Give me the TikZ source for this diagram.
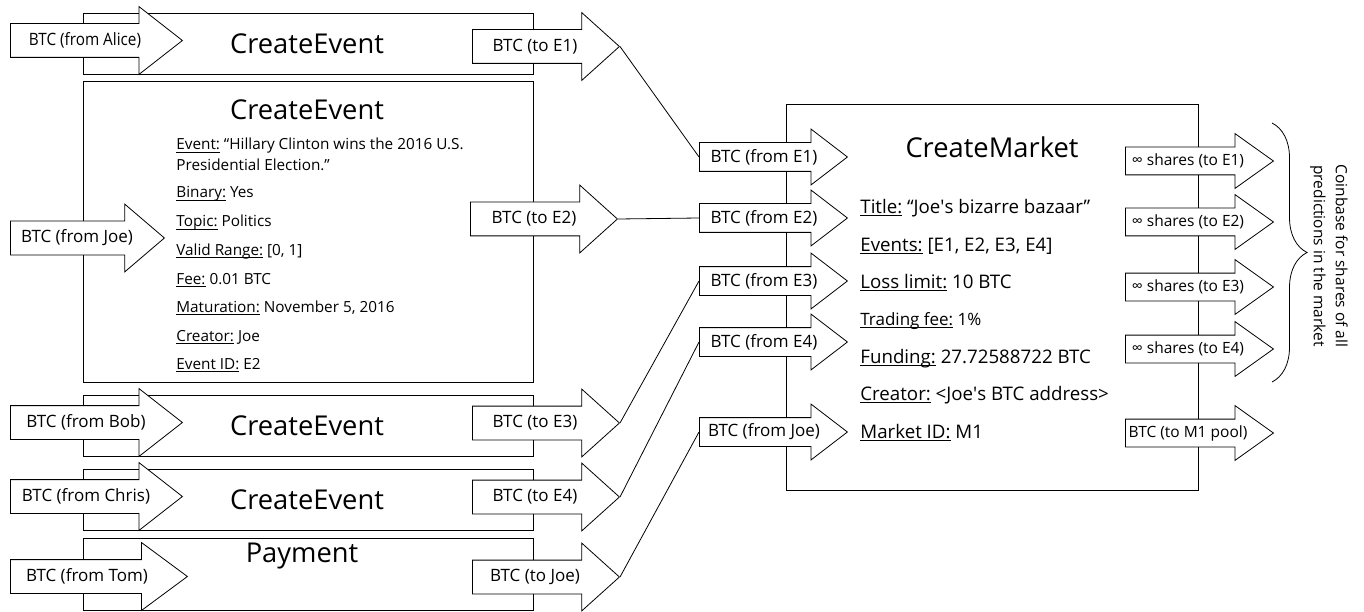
\documentclass[tikz,border=0pt]{standalone}
\usepackage{fontspec}
\setmainfont{Open Sans}
\usetikzlibrary{shapes.arrows,decorations.pathreplacing}
\newsavebox\fldbox
\newcommand{\fld}[2]{\sbox\fldbox{#1}\rlap{\rule[-2.5pt]{\wd\fldbox}{.8pt}}\usebox\fldbox{} #2}
\tikzset{
  flow/.style={single arrow,draw,fill=white,anchor=tail,inner xsep=0pt},
  inarr/.style={flow,minimum height=172pt,inner ysep=16.5pt,single arrow head extend=17pt,single arrow tip angle=76},
  joearr/.style={inarr,minimum height=154pt,single arrow tip angle=81},
  outarr/.style={flow,minimum height=147pt,inner ysep=16.5pt,single arrow head extend=17pt,single arrow tip angle=84},
  mkarr/.style={flow,minimum height=148pt,inner ysep=14pt,single arrow head extend=13.5pt,single arrow tip angle=75},
  sharr/.style={flow,minimum height=148pt,inner ysep=13.5pt,single arrow head extend=13.5pt,single arrow tip angle=71},
  lab/.style={font=\fontsize{17}{20}\selectfont,inner sep=0pt},
  slab/.style={font=\fontsize{15.5}{22}\selectfont,inner sep=0pt},
  title/.style={font=\fontsize{27.3}{32}\selectfont,inner sep=0pt},
  fieldE/.style={anchor=base west,inner sep=0pt,font=\fontsize{15.3}{19}\selectfont},
  fieldM/.style={anchor=base west,inner sep=0pt,font=\fontsize{18.7}{22}\selectfont}
}
\begin{document}
\begin{tikzpicture}[x=1pt,y=-1pt,line width=.8pt]%events into a market
\useasboundingbox (0,0) rectangle (1364,612);
\draw (83,13) rectangle (533,74);
\draw (83,81) rectangle (533,382);
\draw (83,395) rectangle (533,456);
\draw (83,469) rectangle (533,530);
\draw (83,538) rectangle (533,610);
\draw (786,104) rectangle (1198,490);
\node[title] (ce1) at (307,44) {CreateEvent};
\node[title] (ce2) at (307,110) {CreateEvent};
\node[title] (ce3) at (307,426) {CreateEvent};
\node[title] (ce4) at (307,500) {CreateEvent};
\node[title] (pay) at (302,556) {Payment};
\node[title] (cm) at (992,147) {CreateMarket};
\node[fieldE] (ev) at (176,150) {\fld{Event:}{“Hillary Clinton wins the 2016 U.S.}};
\node[fieldE] (evb) at (176,171) {Presidential Election.”};
\node[fieldE] (bin) at (176,198) {\fld{Binary:}{Yes}};
\node[fieldE] (top) at (176,227) {\fld{Topic:}{Politics}};
\node[fieldE] (rng) at (176,255) {\fld{Valid Range:}{[0, 1]}};
\node[fieldE] (fee) at (176,284) {\fld{Fee:}{0.01 BTC}};
\node[fieldE] (mat) at (176,312) {\fld{Maturation:}{November 5, 2016}};
\node[fieldE] (cre) at (176,341) {\fld{Creator:}{Joe}};
\node[fieldE] (eid) at (176,369) {\fld{Event ID:}{E2}};
\node[fieldM] (tit) at (860,213.5) {\fld{Title:}{“Joe\textquotesingle s bizarre bazaar”}};
\node[fieldM] (evs) at (860,251.5) {\fld{Events:}{[E1, E2, E3, E4]}};
\node[fieldM] (los) at (860,288.5) {\fld{Loss limit:}{10 BTC}};
\node[fieldM,font=\fontsize{17}{20}\selectfont] (trf) at (860,325) {\fld{Trading fee:}{1\%}};
\node[fieldM] (fun) at (860,363.5) {\fld{Funding:}{27.72588722 BTC}};
\node[fieldM] (mcr) at (860,400.5) {\fld{Creator:}{<Joe\textquotesingle s BTC address>}};
\node[fieldM] (mid) at (860,438.5) {\fld{Market ID:}{M1}};
\node[inarr] (alice) at (10,40.5) {};
\node[lab] (alicet) at ([xshift=75pt]alice.tail) {\scalebox{.9}[1]{BTC (from Alice)}};
\node[joearr] (joe) at (10,238) {};
\node[lab] (joet) at ([xshift=67pt]joe.tail) {BTC (from Joe)};
\node[inarr] (bob) at (10,422.5) {};
\node[lab] (bobt) at ([xshift=76pt]bob.tail) {BTC (from Bob)};
\node[inarr] (chris) at (10,496.5) {};
\node[lab] (christ) at ([xshift=76pt]chris.tail) {BTC (from Chris)};
\node[inarr,minimum height=177pt,single arrow tip angle=73] (tom) at (10,576.5) {};
\node[lab] (tomt) at ([xshift=77pt]tom.tail) {BTC (from Tom)};
\node[outarr] (toe1) at (472,46.5) {};
\node[lab] (toe1t) at ([xshift=63pt]toe1.tail) {BTC (to E1)};
\node[outarr] (toe2) at (470,219) {};
\node[lab] (toe2t) at ([xshift=64pt]toe2.tail) {BTC (to E2)};
\node[outarr] (toe3) at (472,423) {};
\node[lab] (toe3t) at ([xshift=63pt]toe3.tail) {BTC (to E3)};
\node[outarr] (toe4) at (472,497) {};
\node[lab] (toe4t) at ([xshift=63pt]toe4.tail) {BTC (to E4)};
\node[outarr] (tojoe) at (472,577) {};
\node[lab] (tojoet) at ([xshift=63pt]tojoe.tail) {BTC (to Joe)};
\node[mkarr] (frome1) at (699,157) {};
\node[lab] (frome1t) at ([xshift=65pt]frome1.tail) {BTC (from E1)};
\node[mkarr] (frome2) at (699,218) {};
\node[lab] (frome2t) at ([xshift=65pt]frome2.tail) {BTC (from E2)};
\node[mkarr] (frome3) at (699,281) {};
\node[lab] (frome3t) at ([xshift=65pt]frome3.tail) {BTC (from E3)};
\node[mkarr] (frome4) at (699,342) {};
\node[lab] (frome4t) at ([xshift=65pt]frome4.tail) {BTC (from E4)};
\node[mkarr] (fromjoe) at (699,432) {};
\node[lab] (fromjoet) at ([xshift=65pt]fromjoe.tail) {BTC (from Joe)};
\node[sharr] (sh1) at (1125,161) {};
\node[slab] (sh1t) at ([xshift=63pt]sh1.tail) {∞ shares (to E1)};
\node[sharr] (sh2) at (1125,222) {};
\node[slab] (sh2t) at ([xshift=63pt]sh2.tail) {∞ shares (to E2)};
\node[sharr] (sh3) at (1125,287) {};
\node[slab] (sh3t) at ([xshift=63pt]sh3.tail) {∞ shares (to E3)};
\node[sharr] (sh4) at (1125,349) {};
\node[slab] (sh4t) at ([xshift=63pt]sh4.tail) {∞ shares (to E4)};
\node[sharr] (pool) at (1125,433) {};
\node[slab] (poolt) at ([xshift=63pt]pool.tail) {BTC (to M1 pool)};
\draw (toe1.tip) -- (frome1.tail);
\draw (toe2.tip) -- (frome2.tail);
\draw (toe3.tip) -- (frome3.tail);
\draw (toe4.tip) -- (frome4.tail);
\draw (tojoe.tip) -- (fromjoe.tail);
\draw[decorate,decoration={brace,amplitude=35pt}] (1272,123) -- (1272,382);
\node[slab,rotate=-90,align=center] (coin) at (1329,256) {Coinbase for shares of all\\predictions in the market};
\end{tikzpicture}
\end{document}
